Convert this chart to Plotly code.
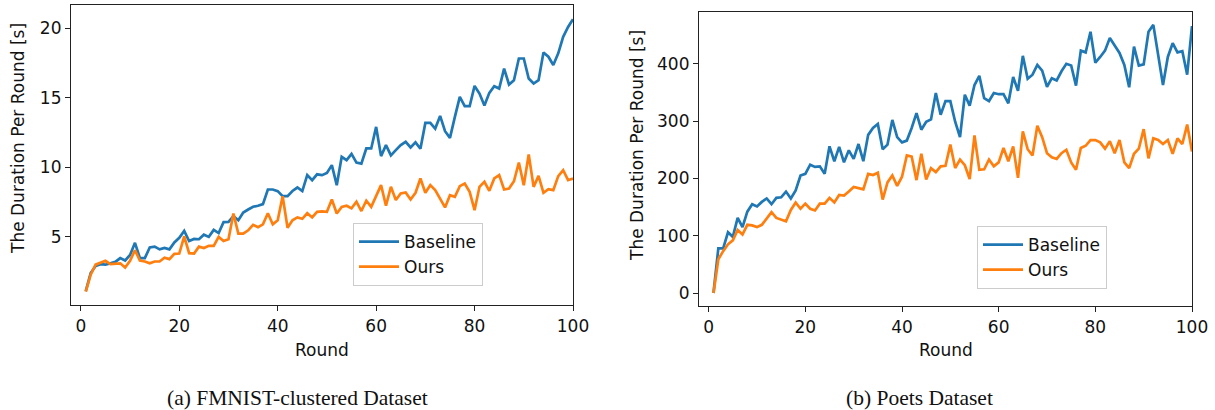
import plotly.graph_objects as go

rounds = list(range(1, 101))

fmnist_baseline = [
    1.1, 2.4, 2.9, 3.04, 3.0, 3.1, 3.2, 3.47, 3.3, 3.7,
    4.57, 3.47, 3.47, 4.24, 4.3, 4.1, 4.2, 4.1, 4.6, 4.93,
    5.43, 4.7, 4.85, 4.83, 5.16, 5.0, 5.5, 5.27, 6.06, 6.08,
    6.49, 6.2, 6.75, 6.97, 7.17, 7.24, 7.36, 8.41, 8.41, 8.29,
    7.93, 7.93, 8.3, 8.55, 8.29, 9.44, 9.08, 9.5, 9.44, 9.6,
    10.16, 8.72, 10.76, 10.52, 10.97, 10.34, 10.27, 11.36, 11.36, 12.91,
    10.81, 11.6, 10.86, 11.24, 11.6, 11.84, 11.43, 11.8, 11.34, 13.2,
    13.2, 12.79, 13.7, 12.6, 12.12, 13.63, 15.07, 14.4, 14.4, 15.86,
    15.31, 14.45, 15.36, 15.84, 15.67, 17.1, 15.96, 16.27, 17.83, 17.83,
    16.39, 16.03, 16.27, 18.27, 17.96, 17.36, 18.2, 19.39, 20.1, 20.66,
]
fmnist_ours = [
    1.07, 2.28, 3.0, 3.16, 3.28, 3.04, 3.06, 3.1, 2.8, 3.28,
    4.04, 3.3, 3.23, 3.1, 3.23, 3.23, 3.5, 3.4, 3.78, 3.8,
    5.03, 3.83, 3.8, 4.3, 4.2, 4.36, 4.36, 5.0, 4.7, 4.83,
    6.68, 5.23, 5.23, 5.47, 5.87, 5.7, 5.9, 6.7, 5.9, 6.2,
    7.93, 5.66, 6.2, 6.4, 6.3, 6.7, 6.4, 6.8, 6.84, 6.8,
    7.69, 6.68, 7.16, 7.24, 7.05, 7.53, 6.86, 7.6, 7.16, 7.93,
    8.72, 7.24, 8.6, 7.65, 8.12, 8.19, 7.69, 8.17, 9.2, 8.17,
    8.72, 8.36, 7.76, 7.12, 8.0, 7.88, 8.65, 8.84, 8.24, 6.92,
    8.6, 8.96, 8.31, 9.2, 9.44, 8.41, 8.48, 9.0, 10.35, 8.72,
    10.93, 8.6, 9.39, 8.17, 8.43, 8.36, 9.37, 9.8, 9.08, 9.2,
]
poets_baseline = [
    0, 78, 78, 106, 98, 131, 115, 142, 155, 151,
    159, 165, 155, 166, 167, 177, 165, 179, 205, 208,
    224, 220, 221, 208, 256, 230, 255, 228, 249, 234,
    260, 230, 276, 288, 295, 251, 259, 302, 272, 263,
    266, 288, 314, 285, 299, 303, 349, 311, 335, 335,
    299, 272, 346, 327, 363, 379, 340, 335, 349, 347,
    347, 331, 377, 353, 414, 374, 381, 398, 388, 360,
    375, 371, 387, 400, 397, 362, 423, 420, 456, 402,
    412, 423, 445, 433, 419, 398, 359, 430, 397, 399,
    456, 468, 416, 363, 412, 436, 420, 422, 381, 466,
]
poets_ours = [
    0, 59, 73, 85, 92, 110, 102, 119, 118, 115,
    119, 131, 141, 131, 128, 125, 145, 158, 147, 156,
    147, 144, 156, 156, 166, 158, 171, 170, 177, 185,
    183, 181, 208, 206, 210, 163, 193, 205, 187, 203,
    240, 238, 197, 243, 198, 218, 211, 221, 222, 259,
    218, 233, 223, 199, 275, 215, 216, 233, 221, 228,
    253, 230, 256, 201, 282, 251, 240, 292, 272, 244,
    237, 234, 244, 250, 228, 215, 253, 257, 267, 267,
    263, 252, 265, 244, 267, 228, 218, 243, 252, 286,
    235, 270, 267, 260, 267, 243, 270, 260, 294, 247,
]

x_ticks = [0, 20, 40, 60, 80, 100]
fmnist_y_ticks = [5, 10, 15, 20]
poets_y_ticks = [0, 100, 200, 300, 400]

BLUE = "#1f77b4"
ORANGE = "#ff7f0e"

W, H = 1215, 410


def px(x):
    return x / W


def py(y):
    return (H - y) / H


fig = go.Figure()
fig.add_trace(go.Scatter(x=rounds, y=fmnist_baseline, mode="lines", name="Baseline",
                         line=dict(color=BLUE, width=2.7), xaxis="x", yaxis="y", legend="legend"))
fig.add_trace(go.Scatter(x=rounds, y=fmnist_ours, mode="lines", name="Ours",
                         line=dict(color=ORANGE, width=2.7), xaxis="x", yaxis="y", legend="legend"))
fig.add_trace(go.Scatter(x=rounds, y=poets_baseline, mode="lines", name="Baseline",
                         line=dict(color=BLUE, width=2.7), xaxis="x2", yaxis="y2", legend="legend2"))
fig.add_trace(go.Scatter(x=rounds, y=poets_ours, mode="lines", name="Ours",
                         line=dict(color=ORANGE, width=2.7), xaxis="x2", yaxis="y2", legend="legend2"))

tick_font = dict(family="DejaVu Sans", size=17, color="#111")
axis_common = dict(showline=True, linecolor="#222", linewidth=1.2, mirror=True,
                   ticks="outside", ticklen=5, tickwidth=1.1, tickcolor="#222",
                   showgrid=False, zeroline=False, tickfont=tick_font, automargin=False)

# axes boxes in window pixels (left, right, top, bottom)
L = (71, 573, 5, 305)
R = (699, 1192, 11.7, 306)


def xdom(b):
    return [px(b[0]), px(b[1])]


def ydom(b):
    return [py(b[3]), py(b[2])]


legend_common = dict(xanchor="left", yanchor="top",
                     bordercolor="#cccccc", borderwidth=1, bgcolor="rgba(255,255,255,0.8)",
                     font=dict(family="DejaVu Sans", size=17, color="#111"),
                     itemwidth=40)

fig.update_layout(
    width=W, height=H,
    margin=dict(l=0, r=0, t=0, b=0),
    paper_bgcolor="white", plot_bgcolor="white",
    xaxis=dict(domain=xdom(L), range=[-2, 100], tickvals=x_ticks, anchor="y", **axis_common),
    yaxis=dict(domain=ydom(L), range=[0.1, 21.68], tickvals=fmnist_y_ticks, anchor="x", **axis_common),
    xaxis2=dict(domain=xdom(R), range=[-2, 100], tickvals=x_ticks, anchor="y2", **axis_common),
    yaxis2=dict(domain=ydom(R), range=[-22.7, 491], tickvals=poets_y_ticks, anchor="x2", **axis_common),
    legend=dict(x=px(353), y=py(223), **legend_common),
    legend2=dict(x=px(977), y=py(226), **legend_common),
    showlegend=True,
)

label_font = dict(family="DejaVu Sans", size=17, color="#111")
cap_font = dict(family="Liberation Serif", size=21.5, color="#111")

annotations = [
    dict(text="Round", x=px((L[0] + L[1]) / 2), y=py(350), font=label_font),
    dict(text="Round", x=px((R[0] + R[1]) / 2), y=py(350), font=label_font),
    dict(text="The Duration Per Round [s]", x=px(18), y=py(139), textangle=-90, font=label_font),
    dict(text="The Duration Per Round [s]", x=px(637), y=py(146), textangle=-90, font=label_font),
    dict(text="(a) FMNIST-clustered Dataset", x=px(297), y=py(398), font=cap_font),
    dict(text="(b) Poets Dataset", x=px(919), y=py(398), font=cap_font),
]
for a in annotations:
    a.update(xref="paper", yref="paper", showarrow=False, xanchor="center", yanchor="middle")
fig.update_layout(annotations=annotations)

# remove the browser's default 8px body margin so the figure fills the window exactly
fig.write_html("out.html", config={"displayModeBar": False},
               post_script="document.body.style.margin='0';")
